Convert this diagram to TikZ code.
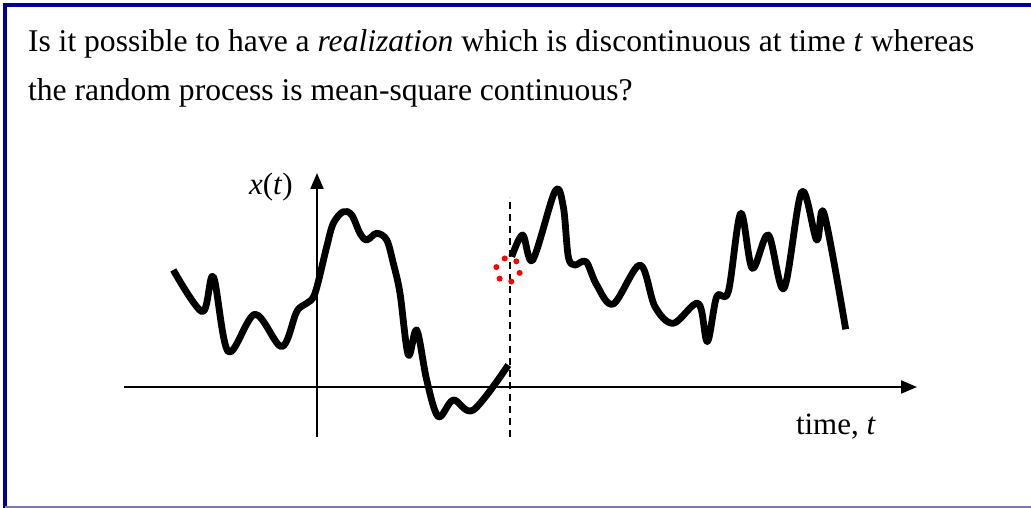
\documentclass[tikz,border=0pt]{standalone}
\usepackage{fontspec}
\setmainfont{Liberation Serif}
\usepackage{xcolor}
\usepackage{tikz}
\usetikzlibrary{arrows.meta}

\definecolor{frameblue}{RGB}{0,0,150}
\definecolor{framelight}{RGB}{120,120,190}

\begin{document}
\begin{tikzpicture}[x=10pt, y=10pt, >={Triangle[length=16pt,width=13pt]}, line width=2pt]
  \useasboundingbox (0,0) rectangle (103.1,50.8);
  % frame
  \draw[frameblue, line width=4.5pt] (0.5,0) -- (0.5,50.3);
  \draw[frameblue, line width=4.5pt] (0.28,50.3) -- (103.1,50.3);
  \draw[framelight, line width=1.5pt] (0.5,0.08) -- (103.1,0.08);
  % question
  \node[anchor=base west, inner sep=0pt, font=\fontsize{31.6}{38}\selectfont] (q1) at (2.7,45.63)
        {Is it possible to have a \textit{realization} which is discontinuous at time \textit{t} whereas};
  \node[anchor=base west, inner sep=0pt, font=\fontsize{31.6}{38}\selectfont] (q2) at (2.7,40.73)
        {the random process is mean-square continuous?};
  % axes
  \draw[->] (12.4,12.1) -- (91.7,12.1);
  \draw[->] (31.7,7.1) -- (31.7,33.5);
  \node[anchor=base west, inner sep=0pt, font=\fontsize{31}{36}\selectfont] (xlab) at (24.8,31.3)
        {\textit{x}(\textit{t})};
  \node[anchor=base west, inner sep=0pt, font=\fontsize{31}{36}\selectfont] (tlab) at (79.5,7.3)
        {time, \textit{t}};
  % jump instant
  \draw[dashed, line width=1.4pt, dash pattern=on 7pt off 5pt] (51.0,7.1) -- (51.0,31.1);
  % realization
  \draw[line width=6.8pt, line join=round] plot[smooth, tension=0.55] coordinates {
    (17.33,23.80) (20.23,19.63) (21.33,23.13) (22.83,15.63) (25.50,19.37)
    (28.17,16.13) (29.67,19.63) (30.67,20.47) (31.50,21.47) (32.67,26.13)
    (33.33,28.47) (34.33,29.63) (35.17,29.30) (36.00,27.47) (36.67,26.80)
    (37.67,27.47) (38.67,26.80) (39.33,24.47) (40.00,21.47) (40.83,15.30)
    (41.67,17.80) (42.67,12.80) (43.83,9.13) (45.33,10.80) (47.33,9.80)
    (50.83,14.30)};
  \draw[line width=6.8pt, line join=round] plot[smooth, tension=0.55] coordinates {
    (51.17,25.13) (52.27,27.30) (53.27,24.80) (55.50,31.67) (56.33,30.13)
    (56.83,25.13) (57.50,24.30) (58.60,24.63) (59.67,22.30) (61.33,20.40)
    (64.00,24.30) (65.50,20.13) (67.33,18.47) (69.83,20.47) (70.73,16.63)
    (71.67,21.13) (72.83,21.63) (74.07,29.47) (75.23,23.97) (76.83,27.30)
    (78.40,21.97) (80.17,31.63) (81.67,26.80) (82.40,29.47) (84.57,17.87)};
  % missing point
  \foreach \a in {-14,46,106,166,226,286}
    \fill[red] (50.8,23.8) ++(\a:1.2) circle (3pt);
\end{tikzpicture}
\end{document}
